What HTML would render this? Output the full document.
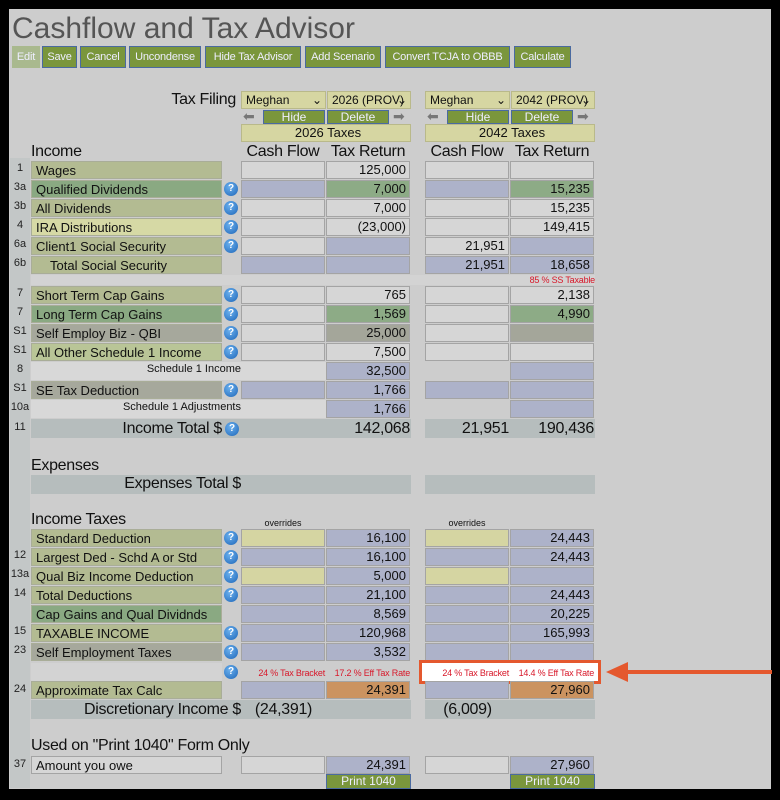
<!DOCTYPE html>
<html><head><meta charset="utf-8"><style>
*{box-sizing:border-box;margin:0;padding:0}
body{width:780px;height:800px;background:#000;position:relative;overflow:hidden;font-family:"Liberation Sans",sans-serif;color:#111}
#pg{position:absolute;left:9px;top:9px;width:762px;height:780px;background:#cdcdcd}
div{position:absolute}
.strip{left:10px;top:158px;width:20px;height:630px;background:#c3c7c7}
.t{font-size:13px;white-space:nowrap;line-height:18px}
.btn{top:46px;height:22px;background:#7a963c;border:1px solid #4a6aa0;color:#eef;font-size:11px;line-height:20px;text-align:center;white-space:nowrap;overflow:hidden;letter-spacing:-0.2px}
.lab{left:31px;width:191px;height:18px;font-size:13px;line-height:18px;padding-left:4px;border:1px solid #a9ad98;white-space:nowrap;overflow:hidden}
.n{left:10px;width:20px;font-size:11px;line-height:14px;text-align:center;color:#222}
.q{left:224px;width:14px;height:14px;border-radius:50%;background:radial-gradient(circle at 40% 35%,#6ab0ee,#1e66b8);color:#fff;font-size:10px;font-weight:bold;line-height:14px;text-align:center}
.cl{height:18px;width:84px;border:1px solid #a4a4a4;font-size:13px;line-height:16px;text-align:right;padding-right:3px;background:#d6d6d6}
.c1{left:241px}.t1{left:326px}.c2{left:425px}.t2{left:510px}
.b{background:#adb2c9}.g{background:#8dab86}.d{background:#a4a69a}.y{background:#d5d5a2}.o{background:#cb9360}
.ol{background:#b3bb92}.gr{background:#8aa982}.ly{background:#d6d9a5}.gy{background:#a6a89c}
.tot{height:19px;background:#b6bdbd}
.hd{font-size:16px;line-height:18px;letter-spacing:-0.3px}
.red{color:#d8182a;font-size:9px;line-height:12px;letter-spacing:-0.2px}
.sel{top:91px;height:18px;background:#d6d6a2;border:1px solid #b9b98a;font-size:12px;line-height:16px;padding-left:4px;white-space:nowrap;overflow:hidden}
.sb{top:110px;height:14px;background:#7a963c;border:1px solid #4a6aa0;color:#eef;font-size:12px;line-height:12px;text-align:center}
.ar{top:110px;width:16px;height:13px;color:#777;font-size:14px;line-height:13px}
</style></head><body>
<div id="pg"></div>
<div class="strip"></div>
<div class="t" style="left:12px;top:12px;font-size:30px;line-height:34px;color:#555">Cashflow and Tax Advisor</div>
<div class="btn" style="left:12px;width:28px;background:#a9b98e;border-color:#a9b98e">Edit</div>
<div class="btn" style="left:42px;width:35px">Save</div>
<div class="btn" style="left:80px;width:46px">Cancel</div>
<div class="btn" style="left:129px;width:72px">Uncondense</div>
<div class="btn" style="left:205px;width:96px">Hide Tax Advisor</div>
<div class="btn" style="left:305px;width:76px">Add Scenario</div>
<div class="btn" style="left:385px;width:125px">Convert TCJA to OBBB</div>
<div class="btn" style="left:514px;width:57px">Calculate</div>

<div class="t hd" style="left:130px;width:106px;top:91px;text-align:right">Tax Filing</div>
<div class="sel" style="left:241px;width:85px">Meghan<span style="position:absolute;right:3px">⌄</span></div>
<div class="sel" style="left:327px;width:84px">2026 (PROV)<span style="position:absolute;right:3px">⌄</span></div>
<div class="sel" style="left:425px;width:85px">Meghan<span style="position:absolute;right:3px">⌄</span></div>
<div class="sel" style="left:511px;width:84px">2042 (PROV)<span style="position:absolute;right:3px">⌄</span></div>
<div class="ar" style="left:243px">⬅</div><div class="sb" style="left:263px;width:62px">Hide</div><div class="sb" style="left:327px;width:62px">Delete</div><div class="ar" style="left:393px">➡</div>
<div class="ar" style="left:427px">⬅</div><div class="sb" style="left:447px;width:62px">Hide</div><div class="sb" style="left:511px;width:62px">Delete</div><div class="ar" style="left:577px">➡</div>
<div class="sel" style="top:124px;left:241px;width:170px;text-align:center;font-size:13px">2026 Taxes</div>
<div class="sel" style="top:124px;left:425px;width:170px;text-align:center;font-size:13px">2042 Taxes</div>

<div class="t hd" style="left:31px;top:143px">Income</div>
<div class="t hd" style="left:241px;width:84px;top:143px;text-align:center">Cash Flow</div>
<div class="t hd" style="left:326px;width:84px;top:143px;text-align:center">Tax Return</div>
<div class="t hd" style="left:425px;width:84px;top:143px;text-align:center">Cash Flow</div>
<div class="t hd" style="left:510px;width:84px;top:143px;text-align:center">Tax Return</div>

<div class="n" style="top:161px">1</div><div class="lab ol" style="top:161px">Wages</div>
<div class="cl c1" style="top:161px"></div><div class="cl t1" style="top:161px">125,000</div><div class="cl c2" style="top:161px"></div><div class="cl t2" style="top:161px"></div>
<div class="n" style="top:180px">3a</div><div class="lab gr" style="top:180px">Qualified Dividends</div><div class="q" style="top:182px">?</div>
<div class="cl c1 b" style="top:180px"></div><div class="cl t1 g" style="top:180px">7,000</div><div class="cl c2 b" style="top:180px"></div><div class="cl t2 g" style="top:180px">15,235</div>
<div class="n" style="top:199px">3b</div><div class="lab ol" style="top:199px">All Dividends</div><div class="q" style="top:201px">?</div>
<div class="cl c1" style="top:199px"></div><div class="cl t1" style="top:199px">7,000</div><div class="cl c2" style="top:199px"></div><div class="cl t2" style="top:199px">15,235</div>
<div class="n" style="top:218px">4</div><div class="lab ly" style="top:218px">IRA Distributions</div><div class="q" style="top:220px">?</div>
<div class="cl c1" style="top:218px"></div><div class="cl t1" style="top:218px">(23,000)</div><div class="cl c2" style="top:218px"></div><div class="cl t2" style="top:218px">149,415</div>
<div class="n" style="top:237px">6a</div><div class="lab ol" style="top:237px">Client1 Social Security</div><div class="q" style="top:239px">?</div>
<div class="cl c1" style="top:237px"></div><div class="cl t1 b" style="top:237px"></div><div class="cl c2" style="top:237px">21,951</div><div class="cl t2 b" style="top:237px"></div>
<div class="n" style="top:256px">6b</div><div class="lab ol" style="top:256px;padding-left:18px">Total Social Security</div>
<div class="cl c1 b" style="top:256px"></div><div class="cl t1 b" style="top:256px"></div><div class="cl c2 b" style="top:256px">21,951</div><div class="cl t2 b" style="top:256px">18,658</div>
<div style="left:31px;top:275px;width:564px;height:10px;background:#d3d3d3"></div>
<div class="t red" style="left:500px;width:95px;top:274px;text-align:right">85 % SS Taxable</div>
<div class="n" style="top:286px">7</div><div class="lab ol" style="top:286px">Short Term Cap Gains</div><div class="q" style="top:288px">?</div>
<div class="cl c1" style="top:286px"></div><div class="cl t1" style="top:286px">765</div><div class="cl c2" style="top:286px"></div><div class="cl t2" style="top:286px">2,138</div>
<div class="n" style="top:305px">7</div><div class="lab gr" style="top:305px">Long Term Cap Gains</div><div class="q" style="top:307px">?</div>
<div class="cl c1" style="top:305px"></div><div class="cl t1 g" style="top:305px">1,569</div><div class="cl c2" style="top:305px"></div><div class="cl t2 g" style="top:305px">4,990</div>
<div class="n" style="top:324px">S1</div><div class="lab gy" style="top:324px">Self Employ Biz - QBI</div><div class="q" style="top:326px">?</div>
<div class="cl c1" style="top:324px"></div><div class="cl t1 d" style="top:324px">25,000</div><div class="cl c2" style="top:324px"></div><div class="cl t2 d" style="top:324px"></div>
<div class="n" style="top:343px">S1</div><div class="lab" style="top:343px;background:#b9c597">All Other Schedule 1 Income</div><div class="q" style="top:345px">?</div>
<div class="cl c1" style="top:343px"></div><div class="cl t1" style="top:343px">7,500</div><div class="cl c2" style="top:343px"></div><div class="cl t2" style="top:343px"></div>
<div class="n" style="top:362px">8</div><div style="left:31px;top:362px;width:295px;height:18px;background:#d8d8d8"></div>
<div class="t" style="left:31px;width:210px;top:360px;text-align:right;font-size:11px">Schedule 1 Income</div>
<div class="cl t1 b" style="top:362px">32,500</div><div class="cl t2 b" style="top:362px"></div>
<div class="n" style="top:381px">S1</div><div class="lab gy" style="top:381px">SE Tax Deduction</div><div class="q" style="top:383px">?</div>
<div class="cl c1 b" style="top:381px"></div><div class="cl t1 b" style="top:381px">1,766</div><div class="cl c2 b" style="top:381px"></div><div class="cl t2 b" style="top:381px"></div>
<div class="n" style="top:400px">10a</div><div style="left:31px;top:400px;width:295px;height:18px;background:#d8d8d8"></div>
<div class="t" style="left:31px;width:210px;top:398px;text-align:right;font-size:11px">Schedule 1 Adjustments</div>
<div class="cl t1 b" style="top:400px">1,766</div><div class="cl t2 b" style="top:400px"></div>
<div class="n" style="top:420px">11</div>
<div class="tot" style="left:31px;top:419px;width:380px"></div><div class="tot" style="left:425px;top:419px;width:170px"></div>
<div class="t hd" style="left:31px;width:191px;top:420px;text-align:right;font-size:16px">Income Total $</div><div class="q" style="top:422px;left:225px">?</div>
<div class="t hd" style="left:326px;width:84px;top:420px;text-align:right">142,068</div>
<div class="t hd" style="left:425px;width:84px;top:420px;text-align:right">21,951</div>
<div class="t hd" style="left:510px;width:84px;top:420px;text-align:right">190,436</div>

<div class="t hd" style="left:31px;top:457px">Expenses</div>
<div class="tot" style="left:31px;top:475px;width:380px"></div><div class="tot" style="left:425px;top:475px;width:170px"></div>
<div class="t hd" style="left:31px;width:210px;top:475px;text-align:right">Expenses Total $</div>

<div class="t hd" style="left:31px;top:511px">Income Taxes</div>
<div class="t" style="left:241px;width:84px;top:517px;font-size:9px;line-height:12px;text-align:center">overrides</div>
<div class="t" style="left:425px;width:84px;top:517px;font-size:9px;line-height:12px;text-align:center">overrides</div>

<div class="lab ol" style="top:529px">Standard Deduction</div><div class="q" style="top:531px">?</div>
<div class="cl c1 y" style="top:529px"></div><div class="cl t1 b" style="top:529px">16,100</div><div class="cl c2 y" style="top:529px"></div><div class="cl t2 b" style="top:529px">24,443</div>
<div class="n" style="top:548px">12</div><div class="lab ol" style="top:548px">Largest Ded - Schd A or Std</div><div class="q" style="top:550px">?</div>
<div class="cl c1 b" style="top:548px"></div><div class="cl t1 b" style="top:548px">16,100</div><div class="cl c2 b" style="top:548px"></div><div class="cl t2 b" style="top:548px">24,443</div>
<div class="n" style="top:567px">13a</div><div class="lab ol" style="top:567px">Qual Biz Income Deduction</div><div class="q" style="top:569px">?</div>
<div class="cl c1 y" style="top:567px"></div><div class="cl t1 b" style="top:567px">5,000</div><div class="cl c2 y" style="top:567px"></div><div class="cl t2 b" style="top:567px"></div>
<div class="n" style="top:586px">14</div><div class="lab ol" style="top:586px">Total Deductions</div><div class="q" style="top:588px">?</div>
<div class="cl c1 b" style="top:586px"></div><div class="cl t1 b" style="top:586px">21,100</div><div class="cl c2 b" style="top:586px"></div><div class="cl t2 b" style="top:586px">24,443</div>
<div class="lab gr" style="top:605px">Cap Gains and Qual Dividnds</div>
<div class="cl c1 b" style="top:605px"></div><div class="cl t1 b" style="top:605px">8,569</div><div class="cl c2 b" style="top:605px"></div><div class="cl t2 b" style="top:605px">20,225</div>
<div class="n" style="top:624px">15</div><div class="lab ol" style="top:624px">TAXABLE INCOME</div><div class="q" style="top:626px">?</div>
<div class="cl c1 b" style="top:624px"></div><div class="cl t1 b" style="top:624px">120,968</div><div class="cl c2 b" style="top:624px"></div><div class="cl t2 b" style="top:624px">165,993</div>
<div class="n" style="top:643px">23</div><div class="lab gy" style="top:643px">Self Employment Taxes</div><div class="q" style="top:645px">?</div>
<div class="cl c1 b" style="top:643px"></div><div class="cl t1 b" style="top:643px">3,532</div><div class="cl c2 b" style="top:643px"></div><div class="cl t2 b" style="top:643px"></div>
<div style="left:31px;top:663px;width:191px;height:18px;background:#d3d3d3"></div>
<div class="q" style="top:665px">?</div>
<div class="t red" style="left:241px;width:84px;top:667px;text-align:right">24 % Tax Bracket</div>
<div class="t red" style="left:326px;width:84px;top:667px;text-align:right">17.2 % Eff Tax Rate</div>
<div style="left:419px;top:660px;width:182px;height:24px;border:3px solid #e4582e;background:#fff"></div>
<div class="t red" style="left:425px;width:84px;top:667px;text-align:right">24 % Tax Bracket</div>
<div class="t red" style="left:510px;width:84px;top:667px;text-align:right">14.4 % Eff Tax Rate</div>
<svg style="position:absolute;left:600px;top:660px" width="175" height="26"><line x1="22" y1="12" x2="172" y2="12" stroke="#e4582e" stroke-width="4"/><polygon points="6,12 28,2 28,22" fill="#e4582e"/></svg>
<div class="n" style="top:682px">24</div><div class="lab ol" style="top:681px">Approximate Tax Calc</div>
<div class="cl c1 b" style="top:681px"></div><div class="cl t1 o" style="top:681px">24,391</div><div class="cl c2 b" style="top:681px"></div><div class="cl t2 o" style="top:681px">27,960</div>
<div class="tot" style="left:31px;top:700px;width:380px"></div><div class="tot" style="left:425px;top:700px;width:170px"></div>
<div class="t hd" style="left:31px;width:210px;top:701px;text-align:right">Discretionary Income $</div>
<div class="t hd" style="left:241px;width:85px;top:701px;text-align:center">(24,391)</div>
<div class="t hd" style="left:425px;width:85px;top:701px;text-align:center">(6,009)</div>

<div class="t hd" style="left:31px;top:737px">Used on "Print 1040" Form Only</div>
<div class="n" style="top:757px">37</div><div class="lab" style="top:756px;background:#d6d6d6;border-color:#a4a4a4">Amount you owe</div>
<div class="cl c1" style="top:756px"></div><div class="cl t1 b" style="top:756px">24,391</div><div class="cl c2" style="top:756px"></div><div class="cl t2 b" style="top:756px">27,960</div>
<div class="sb" style="top:774px;left:326px;width:85px;height:15px">Print 1040</div>
<div class="sb" style="top:774px;left:510px;width:85px;height:15px">Print 1040</div>
</body></html>
